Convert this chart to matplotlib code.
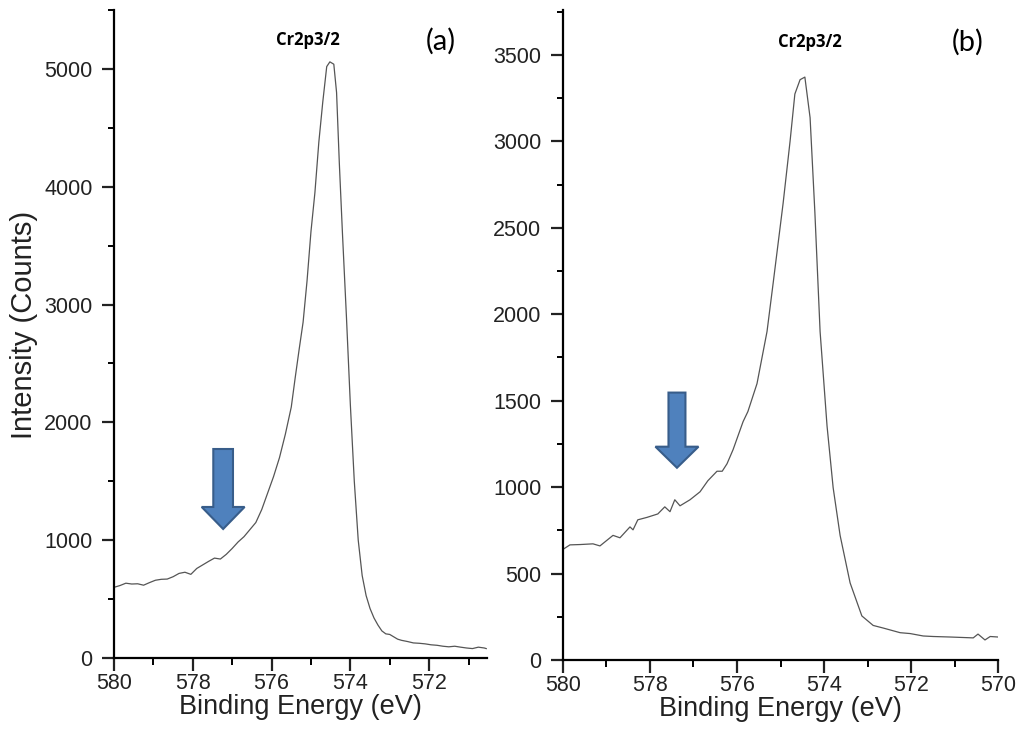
import numpy as np
import matplotlib
matplotlib.use('Agg')
import matplotlib.pyplot as plt
from matplotlib.patches import FancyArrow
from matplotlib.ticker import MultipleLocator

plt.rcParams['font.family'] = ['Liberation Sans', 'DejaVu Sans']

# (a) Cr2p3/2 spectrum
be_a = [580.0, 579.85, 579.7, 579.55, 579.4, 579.25, 579.1, 578.95, 578.8, 578.65,
        578.5, 578.35, 578.2, 578.05, 577.9, 577.75, 577.6, 577.45, 577.3, 577.15,
        577.0, 576.85, 576.7, 576.55, 576.4, 576.25, 576.1, 575.95, 575.8, 575.65,
        575.5, 575.4, 575.3, 575.2, 575.1, 575.0, 574.9, 574.8, 574.7, 574.6,
        574.52, 574.42, 574.35, 574.28, 574.2, 574.1, 574.0, 573.9, 573.8, 573.7,
        573.6, 573.5, 573.4, 573.3, 573.2, 573.1, 573.0, 572.9, 572.8, 572.7,
        572.55, 572.4, 572.25, 572.1, 571.95, 571.8, 571.65, 571.5, 571.35, 571.2,
        571.05, 570.9, 570.75, 570.6, 570.55]
cnt_a = [600, 615, 635, 628, 630, 618, 640, 660, 668, 670,
         690, 718, 728, 710, 760, 790, 820, 848, 840, 880,
         930, 985, 1030, 1090, 1150, 1260, 1400, 1540, 1700, 1900,
         2130, 2380, 2620, 2850, 3200, 3620, 3950, 4380, 4720, 5020,
         5060, 5040, 4800, 4200, 3600, 2900, 2150, 1500, 1000, 700,
         530, 420, 340, 280, 230, 205, 200, 180, 160, 150,
         140, 128, 125, 120, 112, 108, 100, 95, 100, 92,
         85, 80, 92, 85, 80]

# (b) Cr2p3/2 spectrum
be_b = [580.0, 579.84, 579.6, 579.31, 579.15, 578.85, 578.69, 578.46, 578.39, 578.28,
        578.07, 577.82, 577.66, 577.54, 577.43, 577.31, 577.08, 576.85, 576.67, 576.46,
        576.34, 576.23, 576.09, 575.86, 575.75, 575.54, 575.31, 575.17, 574.94, 574.78,
        574.67, 574.55, 574.44, 574.32, 574.21, 574.09, 573.93, 573.79, 573.63, 573.4,
        573.13, 572.87, 572.64, 572.25, 572.02, 571.72, 571.49, 571.1, 570.57, 570.46,
        570.3, 570.18, 570.0]
cnt_b = [640, 666, 668, 672, 660, 721, 707, 770, 753, 811,
         825, 845, 886, 858, 927, 892, 927, 973, 1037, 1092,
         1092, 1135, 1217, 1379, 1437, 1599, 1900, 2178, 2642, 3001,
         3274, 3357, 3372, 3137, 2590, 1900, 1353, 997, 721, 446,
         255, 200, 185, 158, 153, 139, 136, 133, 128, 150,
         116, 136, 133]

label_peak = 'Cr2p3/2'
panel_tags = ['(a)', '(b)']

fig = plt.figure(figsize=(10.21, 7.42), dpi=100)
ax1 = fig.add_axes([0.1117, 0.1132, 0.3653, 0.8733])
ax2 = fig.add_axes([0.5514, 0.1105, 0.4261, 0.8760])

line_col = '#555555'
ax1.plot(be_a, cnt_a, color=line_col, lw=0.9)
ax2.plot(be_b, cnt_b, color=line_col, lw=0.9)

ax1.set_xlim(580, 570.53)
ax1.set_ylim(0, 5500)
ax2.set_xlim(580, 570)
ax2.set_ylim(0, 3760)

ax1.xaxis.set_major_locator(MultipleLocator(2))
ax1.xaxis.set_minor_locator(MultipleLocator(1))
ax1.yaxis.set_major_locator(MultipleLocator(1000))
ax1.yaxis.set_minor_locator(MultipleLocator(500))
ax2.xaxis.set_major_locator(MultipleLocator(2))
ax2.xaxis.set_minor_locator(MultipleLocator(1))
ax2.yaxis.set_major_locator(MultipleLocator(500))
ax2.yaxis.set_minor_locator(MultipleLocator(250))

for ax in (ax1, ax2):
    for s in ('top', 'right'):
        ax.spines[s].set_visible(False)
    for s in ('left', 'bottom'):
        ax.spines[s].set_linewidth(1.6)
    ax.tick_params(axis='x', which='major', direction='out', length=9, width=1.6,
                   labelsize=15.5, pad=2, colors='#222222')
    ax.tick_params(axis='x', which='minor', direction='out', length=5, width=1.4)
    ax.tick_params(axis='y', which='major', direction='out', length=8.5, width=1.6,
                   labelsize=15.5, pad=7, colors='#222222')
    ax.tick_params(axis='y', which='minor', direction='out', length=4.5, width=1.4)
    ax.set_xlabel('Binding Energy (eV)', fontsize=19.5, color='#222222', labelpad=0)

ax1.set_ylabel('Intensity (Counts)', fontsize=21, color='#222222')
ax1.yaxis.set_label_coords(-0.205, 0.514)

# labels
ax1.text(0.52, 0.954, label_peak, transform=ax1.transAxes, ha='center', va='center',
         fontsize=12, fontweight='bold', family=['Open Sans', 'DejaVu Sans'])
ax1.text(0.877, 0.951, panel_tags[0], transform=ax1.transAxes, ha='center', va='center',
         fontsize=21, family=['Lato', 'DejaVu Sans'])
ax2.text(0.568, 0.951, label_peak, transform=ax2.transAxes, ha='center', va='center',
         fontsize=12, fontweight='bold', family=['Open Sans', 'DejaVu Sans'])
ax2.text(0.931, 0.951, panel_tags[1], transform=ax2.transAxes, ha='center', va='center',
         fontsize=21, family=['Lato', 'DejaVu Sans'])

# blue arrows
fill_c, edge_c = '#4f81bd', '#385d8a'
ax1.add_patch(FancyArrow(577.23, 1774, 0, 1095 - 1774, width=0.5, head_width=1.09,
                         head_length=187, length_includes_head=True,
                         facecolor=fill_c, edgecolor=edge_c, lw=1.5, zorder=3))
ax2.add_patch(FancyArrow(577.38, 1547, 0, 1112 - 1547, width=0.39, head_width=0.99,
                         head_length=122, length_includes_head=True,
                         facecolor=fill_c, edgecolor=edge_c, lw=1.5, zorder=3))

fig.savefig('out.png', dpi=100)
